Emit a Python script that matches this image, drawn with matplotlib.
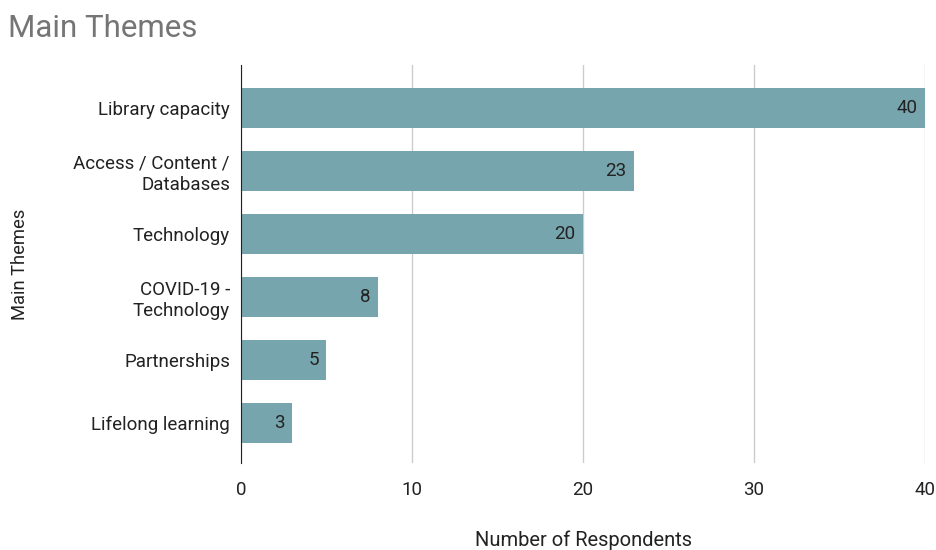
import numpy as np
import matplotlib.pyplot as plt

plt.rcParams['font.family'] = ['Roboto', 'DejaVu Sans']

themes = ['Library capacity', 'Access / Content /\nDatabases', 'Technology',
          'COVID-19 -\nTechnology', 'Partnerships', 'Lifelong learning']
respondents = [40, 23, 20, 8, 5, 3]
xticks = [0, 10, 20, 30, 40]

fig = plt.figure(figsize=(9.37, 5.5), dpi=100)
ax = fig.add_axes([0.2572, 0.158, 0.73, 0.7238])

y = np.arange(len(themes))
ax.barh(y, respondents, height=0.635, color='#77a5ae', zorder=2)
for yi, v in zip(y, respondents):
    ax.text(v - 0.45, yi, str(v), ha='right', va='center', fontsize=13.5, color='#222222', zorder=3)

ax.set_ylim(5.635, -0.68)
ax.set_xlim(0, 40)
ax.set_yticks(y)
ax.set_yticklabels(themes, fontsize=13.5, color='#222222')
ax.set_xticks(xticks)
ax.set_xticklabels([str(t) for t in xticks], fontsize=13.5, color='#222222')
ax.tick_params(axis='y', length=0, pad=8)
ax.tick_params(axis='x', length=0, pad=13)
ax.grid(axis='x', color='#cccccc', linewidth=1, zorder=0)
for s in ['top', 'right', 'bottom']:
    ax.spines[s].set_visible(False)
ax.spines['left'].set_color('#222222')
ax.spines['left'].set_zorder(4)

ax.set_xlabel('Number of Respondents', fontsize=14.5, color='#222222')
ax.xaxis.set_label_coords(0.5, -0.17)
ax.set_ylabel('Main Themes', fontsize=13.2, color='#222222')
ax.yaxis.set_label_coords(-0.31, 0.5)

fig.text(0.009, 0.948, 'Main Themes', fontsize=22.5, color='#757575', va='center')

fig.savefig('out.png', dpi=100)
